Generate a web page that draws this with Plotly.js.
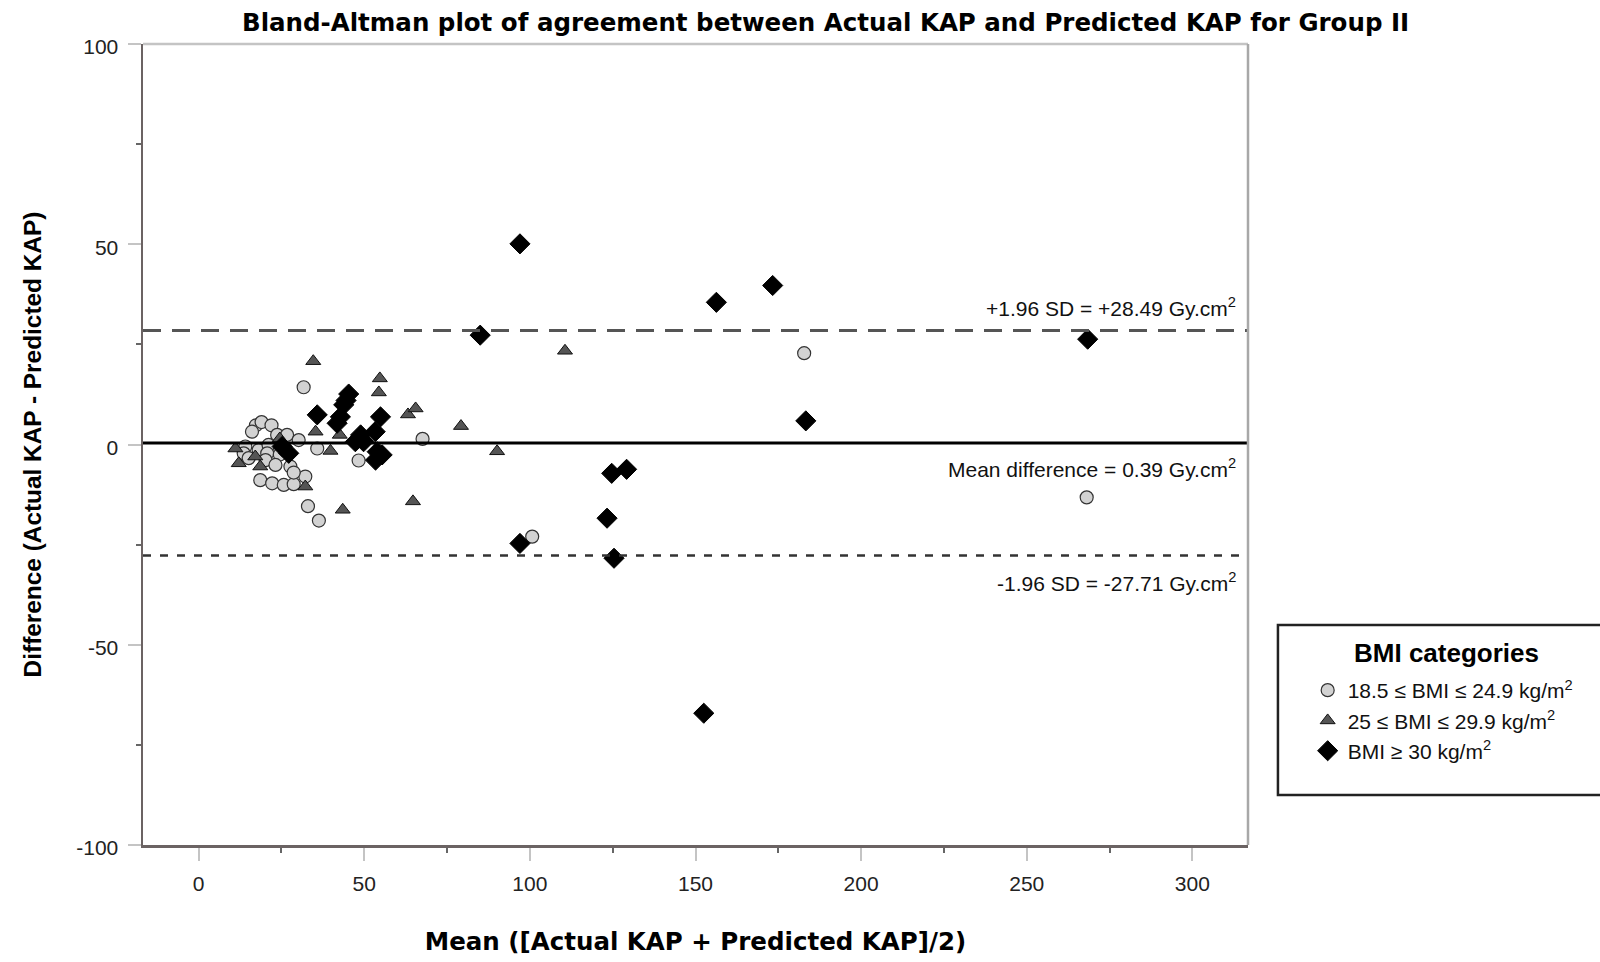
<!DOCTYPE html>
<html>
<head>
<meta charset="utf-8">
<script src="https://cdn.plot.ly/plotly-3.0.1.min.js"></script>
<style>html,body{margin:0;padding:0;background:#fff;}#chart{width:1600px;height:962px;}</style>
</head>
<body>
<div id="chart"></div>
<script>
// ---- Data ----
const normalX = [31.7, 17.3, 19.0, 22.0, 16.1, 23.7, 26.7, 30.2, 14.1, 18.1, 21.1, 13.6, 20.7, 24.5, 15.1, 20.2, 23.2, 27.7, 18.6, 22.2, 25.7, 28.7, 32.2, 28.7, 33.0, 36.3, 35.8, 48.3, 67.6, 100.7, 182.8, 268.1];
const normalY = [14.3, 4.8, 5.6, 4.8, 3.2, 2.4, 2.4, 1.1, -0.5, -1.4, -0.1, -2.2, -2.2, -2.5, -3.4, -3.9, -5.1, -5.5, -8.9, -9.7, -10.1, -9.9, -8.0, -7.0, -15.4, -19.0, -1.0, -4.0, 1.4, -23.0, 22.8, -13.2];

const overX = [11.1, 12.1, 17.1, 18.6, 24.5, 32.2, 34.6, 35.3, 42.6, 39.8, 43.5, 54.7, 54.4, 63.2, 65.5, 64.7, 79.2, 90.1, 110.6];
const overY = [-1.0, -4.7, -3.0, -5.5, 1.5, -10.5, 20.8, 3.2, 2.4, -1.6, -16.3, 16.5, 13.0, 7.5, 9.0, -14.2, 4.6, -1.7, 23.4];

const obeseX = [97.0, 85.0, 156.3, 173.3, 268.4, 183.3, 124.7, 129.2, 123.3, 97.0, 125.4, 152.5, 45.3, 44.5, 35.8, 43.8, 42.8, 41.8, 54.9, 48.9, 53.3, 47.3, 49.8, 53.9, 55.4, 53.4, 25.2, 27.2];
const obeseY = [50.1, 27.3, 35.5, 39.7, 26.3, 5.9, -7.2, -6.2, -18.4, -24.7, -28.4, -67.1, 12.6, 11.0, 7.4, 9.9, 6.9, 5.3, 6.9, 2.4, 3.2, 0.7, 0.7, -1.8, -2.6, -3.9, -0.5, -2.2];

const meanDiff = 0.39;
const upperLoA = 28.49;
const lowerLoA = -27.71;

const seriesNames = ["18.5 \u2264 BMI \u2264 24.9 kg/m<sup>2</sup>", "25 \u2264 BMI \u2264 29.9 kg/m<sup>2</sup>", "BMI \u2265 30 kg/m<sup>2</sup>"];
const xTickVals = [0, 50, 100, 150, 200, 250, 300];
const yTickVals = [-100, -50, 0, 50, 100];

// ---- Chart ----
const F = "Liberation Sans, Arial, sans-serif";
const FB = "DejaVu Sans, Verdana, sans-serif";
const traces = [
  {x: normalX, y: normalY, type: "scatter", mode: "markers", name: seriesNames[0],
   marker: {symbol: "circle", size: 13, color: "#d2d2d2", line: {color: "#333333", width: 1.2}}},
  {x: overX, y: overY, type: "scatter", mode: "markers", name: seriesNames[1],
   marker: {symbol: "triangle-up", size: 13, color: "#555555", line: {color: "#111111", width: 1}}},
  {x: obeseX, y: obeseY, type: "scatter", mode: "markers", name: seriesNames[2],
   marker: {symbol: "diamond", size: 15.5, color: "#000000", line: {color: "#000000", width: 1}}}
];

const layout = {
  width: 1600, height: 962,
  margin: {l: 143, r: 352, t: 44, b: 117, pad: 0},
  paper_bgcolor: "#ffffff", plot_bgcolor: "#ffffff",
  font: {family: F, size: 21, color: "#111111"},
  title: {text: "Bland-Altman plot of agreement between Actual KAP and Predicted KAP for Group II",
          font: {family: FB, size: 24.5, color: "#000000", weight: "bold"},
          xref: "container", x: 0.516, xanchor: "center", yref: "container", y: 1 - 22.5/962, yanchor: "middle"},
  xaxis: {
    range: [-16.8, 316.8], tickvals: xTickVals, ticktext: xTickVals.map(String),
    showgrid: false, zeroline: false,
    showline: true, linecolor: "#6b6363", linewidth: 2.5,
    ticks: "outside", ticklen: 13, tickwidth: 2, tickcolor: "#c4c4c4",
    minor: {dtick: 25, tick0: 25, ticks: "outside", ticklen: 5, tickwidth: 2, tickcolor: "#666666", showgrid: false},
    ticklabelstandoff: 5,
    tickfont: {family: F, size: 21, color: "#222222"},
    title: {text: "Mean ([Actual KAP + Predicted KAP]/2)", font: {family: FB, size: 24.5, color: "#000000", weight: "bold"}, standoff: 39},
    automargin: false
  },
  yaxis: {
    range: [-100, 100], tickvals: yTickVals, ticktext: yTickVals.map(String),
    showgrid: false, zeroline: false,
    showline: true, linecolor: "#6b6363", linewidth: 2.5,
    ticks: "outside", ticklen: 13, tickwidth: 2, tickcolor: "#c4c4c4",
    minor: {dtick: 25, tick0: 25, ticks: "outside", ticklen: 5, tickwidth: 2, tickcolor: "#666666", showgrid: false},
    ticklabelstandoff: 5,
    ticklabelshift: 3,
    tickfont: {family: F, size: 21, color: "#222222"},
    title: {text: "Difference (Actual KAP - Predicted KAP)", font: {family: "Liberation Sans Narrow, Arial Narrow, sans-serif", size: 24.4, color: "#000000", weight: "bold"}, standoff: 28},
    automargin: false
  },
  showlegend: true,
  legend: {x: 1.054, xanchor: "left", y: 0.2185, yanchor: "top", bgcolor: "rgba(0,0,0,0)", borderwidth: 0,
           font: {family: F, size: 21, color: "#111111"}, itemwidth: 30, tracegroupgap: 0},
  shapes: [
    {type: "line", xref: "paper", x0: 0, x1: 1, yref: "y", y0: meanDiff, y1: meanDiff, line: {color: "#000000", width: 3}},
    {type: "line", xref: "paper", x0: 0, x1: 1, yref: "y", y0: upperLoA, y1: upperLoA, line: {color: "#555555", width: 3, dash: "18px,11px"}},
    {type: "line", xref: "paper", x0: 0, x1: 1, yref: "y", y0: lowerLoA, y1: lowerLoA, line: {color: "#333333", width: 2.5, dash: "8px,9px"}},
    {type: "line", xref: "paper", x0: 0, x1: 1, yref: "paper", y0: 1, y1: 1, line: {color: "#c4c4c4", width: 2.5}},
    {type: "line", xref: "paper", x0: 1, x1: 1, yref: "paper", y0: 0, y1: 1, line: {color: "#a8a8a8", width: 2.5}},
    {type: "rect", xref: "paper", x0: 1.0271, x1: 1.33, yref: "paper", y0: 0.0624, y1: 0.2747, line: {color: "#222222", width: 2.5}, fillcolor: "rgba(0,0,0,0)"}
  ],
  annotations: [
    {text: "+1.96 SD = +28.49 Gy.cm<sup>2</sup>", xref: "paper", x: 0.991, xanchor: "right", yref: "y", y: 34.4, yanchor: "middle", showarrow: false, font: {family: F, size: 21, color: "#111111"}},
    {text: "Mean difference = 0.39 Gy.cm<sup>2</sup>", xref: "paper", x: 0.991, xanchor: "right", yref: "y", y: -5.9, yanchor: "middle", showarrow: false, font: {family: F, size: 21, color: "#111111"}},
    {text: "-1.96 SD = -27.71 Gy.cm<sup>2</sup>", xref: "paper", x: 0.991, xanchor: "right", yref: "y", y: -34.3, yanchor: "middle", showarrow: false, font: {family: F, size: 21, color: "#111111"}},
    {text: "<b>BMI categories</b>", xref: "paper", x: 1.180, xanchor: "center", yref: "paper", y: 0.2397, yanchor: "middle", showarrow: false, font: {family: F, size: 26, color: "#000000"}}
  ]
};

Plotly.newPlot("chart", traces, layout, {displayModeBar: false, staticPlot: true});
</script>
</body>
</html>
